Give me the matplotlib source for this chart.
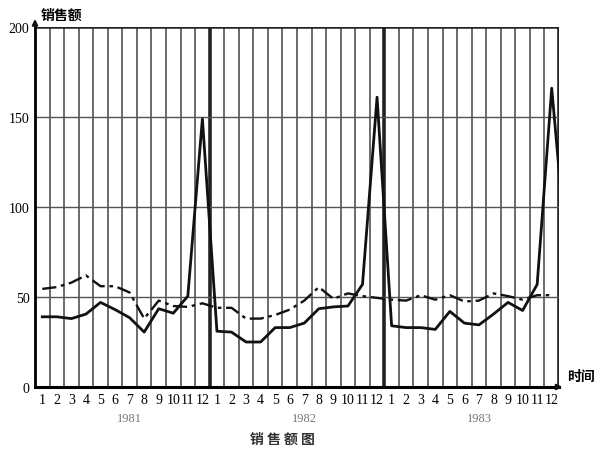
import numpy as np
import matplotlib.pyplot as plt
from matplotlib.patches import Rectangle

# --- data ---
years = ["1981", "1982", "1983"]
month_labels = [str(m) for m in range(1, 13)] * 3

# actual monthly sales (solid); last value is the start of 1984, clipped at the frame
sales = [39, 39, 38, 40.5, 47, 43, 38.5, 30.5, 43.5, 41, 50.5, 149,
         31, 30.5, 25, 25, 33, 33, 35.5, 43.5, 44.5, 45, 57, 161,
         34, 33, 33, 32, 42, 35.5, 34.5, 40.5, 47, 42.5, 57, 166,
         75]
# smoothed / trend series (dash-dot)
trend = [54.5, 55.5, 58, 62, 56, 56, 52.5, 38, 48, 45, 44.5, 46.5,
         44, 44, 38, 38, 40, 43, 48, 55.5, 49, 52, 50.5, 49.5,
         48.5, 48, 51, 48.5, 51, 47.5, 48, 52, 50.5, 48.5, 51, 51]

CJK = ['Noto Sans CJK SC', 'DejaVu Sans']
SERIF = 'Liberation Serif'

fig = plt.figure(figsize=(6, 4.56), dpi=100)
ax = fig.add_axes([35 / 600, 68 / 456, 524 / 600, 360 / 456])

n = len(month_labels)
ax.set_xlim(-0.5, n - 0.5)
ax.set_ylim(0, 200)

# vertical grid at month boundaries, thicker at year boundaries
for k in range(n + 1):
    xb = k - 0.5
    if k % 12 == 0 and k > 0:
        ax.axvline(xb, color='#222222', lw=2.6, zorder=1)
    elif k > 0:
        ax.axvline(xb, color='#444444', lw=1.1, zorder=1)
for yv in [50, 100, 150]:
    ax.axhline(yv, color='#555555', lw=1.0, zorder=1)
ax.axhline(200, color='#222222', lw=1.8, zorder=1)

x = np.arange(len(sales))
ln, = ax.plot(x, sales, color='#111111', lw=2.0, zorder=3)
ln.set_clip_path(Rectangle((-0.5, 0), n, 200, transform=ax.transData))
ax.plot(np.arange(len(trend)), trend, color='#111111', lw=1.7,
        linestyle=(0, (6, 2, 1.5, 2)), zorder=3)

for s in ['top', 'right']:
    ax.spines[s].set_visible(False)
ax.spines['left'].set_linewidth(2.0)
ax.spines['bottom'].set_linewidth(2.2)

ax.set_xticks(np.arange(n))
ax.set_xticklabels(month_labels, fontfamily=SERIF, fontsize=10)
ax.set_yticks([0, 50, 100, 150, 200])
ax.set_yticklabels(['0', '50', '100', '150', '200'], fontfamily=SERIF, fontsize=10)
ax.tick_params(length=0, pad=4)

# axis arrows
ax.annotate('', xy=(0, 1.03), xytext=(0, 0.99), xycoords='axes fraction',
            arrowprops=dict(arrowstyle='-|>', color='#111111', lw=1.5,
                            mutation_scale=8), annotation_clip=False)
ax.annotate('', xy=(1.012, 0), xytext=(0.99, 0), xycoords='axes fraction',
            arrowprops=dict(arrowstyle='-|>', color='#111111', lw=1.5,
                            mutation_scale=8), annotation_clip=False)

fig.text(41 / 600, 1 - 16 / 456, '销售额', family=CJK, fontsize=10,
         fontweight='bold', ha='left', va='center')
ax.text(1.015, 0.012, '时间', transform=ax.transAxes, family=CJK,
        fontsize=10, fontweight='bold', ha='left', va='bottom')

for i, yr in enumerate(years):
    ax.text(12 * i + 6, -17, yr, fontfamily=SERIF, fontsize=9,
            color='#777777', ha='center', va='center')

fig.text(282 / 600, 1 - 440 / 456, '销 售 额 图', family=CJK, fontsize=10,
         fontweight='bold', ha='center', va='center', color='#333333')

fig.savefig('out.png', dpi=100)
